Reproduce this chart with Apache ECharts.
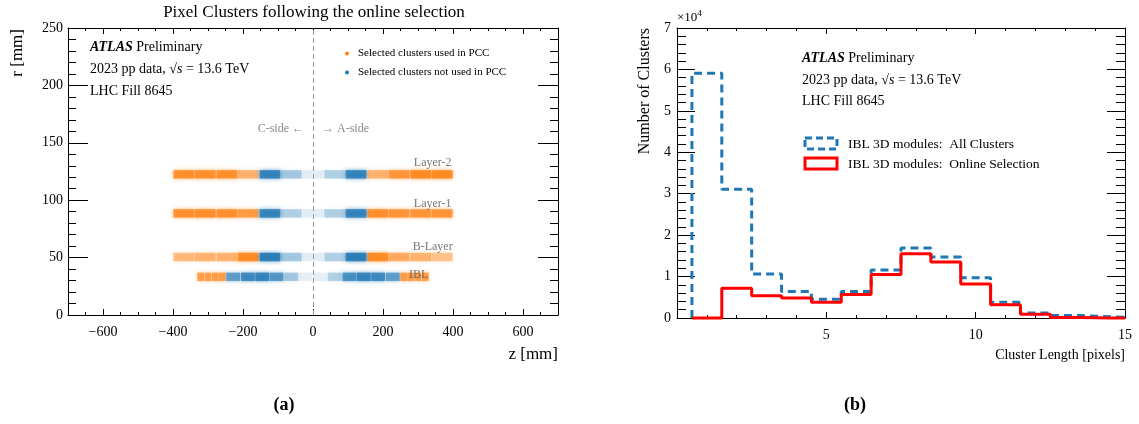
<!DOCTYPE html>
<html>
<head>
<meta charset="utf-8">
<script src="https://cdn.jsdelivr.net/npm/echarts@6/dist/echarts.min.js"></script>
<style>
  html, body { margin: 0; padding: 0; background: #fff; }
  #main { width: 1139px; height: 424px; }
</style>
</head>
<body>
<div id="main"></div>
<script>
// (a) pixel layers: module centres along z [mm] and radius [mm]
const layerNames = ['IBL', 'B-Layer', 'Layer-1', 'Layer-2'];
const layerRadius = [33.25, 50.5, 88.5, 122.5];

const pixZ = [-369, -308, -246, -185, -123, -62, 0, 62, 123, 185, 246, 308, 369];
const pixUsed = [1, 1, 1, 1, 0, 0, 0, 0, 0, 1, 1, 1, 1];
const bLayerShade = [0.45, 0.5, 0.5, 0.8, 0.85, 0.35, 0.12, 0.3, 0.85, 0.8, 0.55, 0.5, 0.4];
const layer1Shade = [0.75, 0.75, 0.75, 0.65, 0.8, 0.3, 0.12, 0.3, 0.8, 0.75, 0.7, 0.7, 0.7];
const layer2Shade = [0.75, 0.75, 0.75, 0.5, 0.8, 0.35, 0.12, 0.3, 0.8, 0.5, 0.7, 0.8, 0.8];

const iblZ = [-321, -300, -279, -259, -228, -186, -145, -104, -62, -21, 21, 62, 104, 145, 186, 228, 259, 279, 300, 321];
const iblUsed = [1, 1, 1, 1, 0, 0, 0, 0, 0, 0, 0, 0, 0, 0, 0, 0, 1, 1, 1, 1];
const iblShade = [0.65, 0.65, 0.65, 0.65, 0.6, 0.75, 0.8, 0.65, 0.35, 0.1, 0.1, 0.3, 0.7, 0.8, 0.75, 0.6, 0.65, 0.65, 0.65, 0.65];

// (b) cluster length histogram, bins of width 1 centred on integers
const binCenters = [1, 2, 3, 4, 5, 6, 7, 8, 9, 10, 11, 12, 13, 14, 15];
const allClusters = [59100, 31100, 10600, 6400, 4500, 6400, 11600, 16900, 14700, 9700, 3800, 1200, 600, 300, 200];
const onlineSel = [0, 7200, 5400, 4800, 3800, 5700, 10500, 15500, 13500, 8200, 3200, 900, 100, 0, 0];

const ORANGE = '#ff7f0e';
const BLUE = '#1f77b4';
const SERIF = "'Liberation Serif', 'DejaVu Serif', serif";

function hexA(hex, a) {
  const n = parseInt(hex.slice(1), 16);
  return 'rgba(' + (n >> 16) + ',' + ((n >> 8) & 255) + ',' + (n & 255) + ',' + a + ')';
}

// build module list [z, r, width, shade] split into used / not used
let usedMods = [], otherMods = [];
[[bLayerShade, 1], [layer1Shade, 2], [layer2Shade, 3]].forEach(([shade, li]) => {
  pixZ.forEach((z, i) => {
    const m = [z, layerRadius[li], 61.5, shade[i]];
    (pixUsed[i] ? usedMods : otherMods).push(m);
  });
});
iblZ.forEach((z, i) => {
  const m = [z, layerRadius[0], iblUsed[i] ? 20.75 : 41.3, iblShade[i]];
  (iblUsed[i] ? usedMods : otherMods).push(m);
});

function moduleRenderer(color) {
  return function (params, api) {
    const z = api.value(0), r = api.value(1), w = api.value(2), a = api.value(3);
    const p1 = api.coord([z - w / 2 + 0.8, r + 3.7]);
    const p2 = api.coord([z + w / 2 - 0.8, r - 3.7]);
    return {
      type: 'rect',
      shape: { x: p1[0], y: p1[1], width: p2[0] - p1[0], height: p2[1] - p1[1] },
      style: { fill: hexA(color, a), shadowBlur: 4, shadowColor: hexA(color, a) }
    };
  };
}

function steps(vals, xMax) {
  let pts = [[binCenters[0] - 0.5, 0]];
  vals.forEach((v, i) => {
    pts.push([binCenters[i] - 0.5, v]);
    pts.push([Math.min(binCenters[i] + 0.5, xMax), v]);
  });
  return pts;
}

const minus = v => (v < 0 ? '\u2212' + Math.abs(v) : '' + v);
const lbl = { fontFamily: SERIF, fontSize: 14, color: '#000' };
const blackLine = { show: true, onZero: false, lineStyle: { color: '#000', width: 1 } };
const noLine = { show: false, onZero: false };

const chart = echarts.init(document.getElementById('main'));

let option = {
  backgroundColor: '#fff',
  animation: false,
  grid: [
    { left: 68, top: 28, width: 490, height: 287 },
    { left: 677, top: 28, width: 448, height: 290 }
  ],
  xAxis: [
    { gridIndex: 0, type: 'value', position: 'bottom', min: -700, max: 700, splitNumber: 7,
      axisLine: blackLine, splitLine: { show: false },
      axisTick: { inside: true, length: 6, lineStyle: { color: '#000' } },
      axisLabel: Object.assign({ margin: 10, showMinLabel: false, showMaxLabel: false,
        formatter: v => (Math.abs(v) === 700 ? '' : minus(v)) }, lbl) },
    { gridIndex: 0, type: 'value', position: 'bottom', min: -700, max: 700, interval: 50,
      axisLine: noLine, splitLine: { show: false }, axisLabel: { show: false },
      axisTick: { inside: true, length: 3, lineStyle: { color: '#000' } } },
    { gridIndex: 0, type: 'value', position: 'top', min: -700, max: 700, splitNumber: 7,
      axisLine: blackLine, splitLine: { show: false }, axisLabel: { show: false },
      axisTick: { inside: true, length: 6, lineStyle: { color: '#000' } } },
    { gridIndex: 0, type: 'value', position: 'top', min: -700, max: 700, interval: 50,
      axisLine: noLine, splitLine: { show: false }, axisLabel: { show: false },
      axisTick: { inside: true, length: 3, lineStyle: { color: '#000' } } },
    { gridIndex: 1, type: 'value', position: 'bottom', min: 0, max: 15, interval: 5,
      axisLine: blackLine, splitLine: { show: false },
      axisTick: { inside: true, length: 6, lineStyle: { color: '#000' } },
      minorTick: { show: true, splitNumber: 5, length: 3, lineStyle: { color: '#000' } },
      axisLabel: Object.assign({ margin: 10, formatter: v => (v === 0 ? '' : v) }, lbl) },
    { gridIndex: 1, type: 'value', position: 'top', min: 0, max: 15, interval: 5,
      axisLine: blackLine, splitLine: { show: false }, axisLabel: { show: false },
      axisTick: { inside: true, length: 6, lineStyle: { color: '#000' } },
      minorTick: { show: true, splitNumber: 5, length: 3, lineStyle: { color: '#000' } } }
  ],
  yAxis: [
    { gridIndex: 0, type: 'value', position: 'left', min: 0, max: 250, interval: 50,
      axisLine: blackLine, splitLine: { show: false },
      axisTick: { inside: true, length: 20, lineStyle: { color: '#000' } },
      minorTick: { show: true, splitNumber: 5, length: 8, lineStyle: { color: '#000' } },
      axisLabel: Object.assign({ margin: 5 }, lbl) },
    { gridIndex: 0, type: 'value', position: 'right', min: 0, max: 250, interval: 50,
      axisLine: blackLine, splitLine: { show: false }, axisLabel: { show: false },
      axisTick: { inside: true, length: 20, lineStyle: { color: '#000' } },
      minorTick: { show: true, splitNumber: 5, length: 8, lineStyle: { color: '#000' } } },
    { gridIndex: 1, type: 'value', position: 'left', min: 0, max: 70000, interval: 10000,
      axisLine: blackLine, splitLine: { show: false },
      axisTick: { inside: true, length: 18, lineStyle: { color: '#000' } },
      minorTick: { show: true, splitNumber: 5, length: 9, lineStyle: { color: '#000' } },
      axisLabel: Object.assign({ margin: 6, formatter: v => v / 10000 }, lbl) },
    { gridIndex: 1, type: 'value', position: 'right', min: 0, max: 70000, interval: 10000,
      axisLine: blackLine, splitLine: { show: false }, axisLabel: { show: false },
      axisTick: { inside: true, length: 18, lineStyle: { color: '#000' } },
      minorTick: { show: true, splitNumber: 5, length: 9, lineStyle: { color: '#000' } } }
  ],
  legend: {
    left: 340, top: 43, orient: 'vertical', itemGap: 8,
    icon: 'circle', itemWidth: 4, itemHeight: 4,
    data: ['Selected clusters used in PCC', 'Selected clusters not used in PCC'],
    textStyle: { fontFamily: SERIF, fontSize: 11, color: '#000', padding: [0, 0, 0, 4] }
  },
  series: [
    { name: 'Selected clusters used in PCC', type: 'custom', xAxisIndex: 0, yAxisIndex: 0,
      itemStyle: { color: ORANGE }, renderItem: moduleRenderer(ORANGE), data: usedMods,
      markLine: { silent: true, symbol: 'none', label: { show: false },
        lineStyle: { color: '#999', type: [5, 3], width: 1 }, data: [{ xAxis: 0 }] } },
    { name: 'Selected clusters not used in PCC', type: 'custom', xAxisIndex: 0, yAxisIndex: 0,
      itemStyle: { color: BLUE }, renderItem: moduleRenderer(BLUE), data: otherMods },
    { name: 'layer labels', type: 'scatter', xAxisIndex: 0, yAxisIndex: 0, symbolSize: 0,
      data: [
        { name: layerNames[0], value: [302, layerRadius[0] + 1.5] },
        { name: layerNames[1], value: [342, layerRadius[1] + 9] },
        { name: layerNames[2], value: [342, layerRadius[2] + 8] },
        { name: layerNames[3], value: [342, layerRadius[3] + 10] }
      ],
      label: { show: true, position: 'inside', formatter: p => p.name,
        fontFamily: SERIF, fontSize: 12, color: '#555' } },
    { name: 'IBL 3D modules:  All Clusters', type: 'line', xAxisIndex: 4, yAxisIndex: 2,
      data: steps(allClusters, 15), showSymbol: false, clip: false,
      lineStyle: { color: BLUE, width: 3, type: [8, 5] } },
    { name: 'IBL 3D modules:  Online Selection', type: 'line', xAxisIndex: 4, yAxisIndex: 2,
      data: steps(onlineSel, 15), showSymbol: false, clip: false,
      lineStyle: { color: '#ff0000', width: 3 } }
  ],
  graphic: [
    { type: 'text', x: 314, y: 13, style: { text: 'Pixel Clusters following the online selection',
      fontFamily: SERIF, fontSize: 17, fill: '#000', align: 'center', verticalAlign: 'middle' } },
    { type: 'text', x: 90, y: 47, style: { text: '{b|ATLAS} Preliminary', fontFamily: SERIF, fontSize: 14,
      fill: '#000', verticalAlign: 'middle', rich: { b: { fontFamily: SERIF, fontSize: 14, fontWeight: 'bold', fontStyle: 'italic' } } } },
    { type: 'text', x: 90, y: 69, style: { text: '2023 pp data, \u221A{i|s} = 13.6 TeV', fontFamily: SERIF, fontSize: 14,
      fill: '#000', verticalAlign: 'middle', rich: { i: { fontFamily: SERIF, fontSize: 14, fontStyle: 'italic' } } } },
    { type: 'text', x: 90, y: 91, style: { text: 'LHC Fill 8645', fontFamily: SERIF, fontSize: 14,
      fill: '#000', verticalAlign: 'middle' } },
    { type: 'text', x: 304, y: 129, style: { text: 'C-side \u2190', fontFamily: SERIF, fontSize: 12,
      fill: '#888', align: 'right', verticalAlign: 'middle' } },
    { type: 'text', x: 322, y: 129, style: { text: '\u2192 A-side', fontFamily: SERIF, fontSize: 12,
      fill: '#888', align: 'left', verticalAlign: 'middle' } },
    { type: 'text', x: 18, y: 29, rotation: Math.PI / 2, style: { text: 'r [mm]', fontFamily: SERIF, fontSize: 17,
      fill: '#000', align: 'right', verticalAlign: 'middle' } },
    { type: 'text', x: 558, y: 355, style: { text: 'z [mm]', fontFamily: SERIF, fontSize: 17,
      fill: '#000', align: 'right', verticalAlign: 'middle' } },
    { type: 'text', x: 284, y: 405, style: { text: '(a)', fontFamily: SERIF, fontSize: 18, fontWeight: 'bold',
      fill: '#000', align: 'center', verticalAlign: 'middle' } },
    { type: 'text', x: 802, y: 58, style: { text: '{b|ATLAS} Preliminary', fontFamily: SERIF, fontSize: 14,
      fill: '#000', verticalAlign: 'middle', rich: { b: { fontFamily: SERIF, fontSize: 14, fontWeight: 'bold', fontStyle: 'italic' } } } },
    { type: 'text', x: 802, y: 80, style: { text: '2023 pp data, \u221A{i|s} = 13.6 TeV', fontFamily: SERIF, fontSize: 14,
      fill: '#000', verticalAlign: 'middle', rich: { i: { fontFamily: SERIF, fontSize: 14, fontStyle: 'italic' } } } },
    { type: 'text', x: 802, y: 101, style: { text: 'LHC Fill 8645', fontFamily: SERIF, fontSize: 14,
      fill: '#000', verticalAlign: 'middle' } },
    { type: 'rect', shape: { x: 805, y: 138, width: 32, height: 11 },
      style: { fill: 'none', stroke: BLUE, lineWidth: 3, lineDash: [7, 4] } },
    { type: 'rect', shape: { x: 805, y: 158, width: 32, height: 11 },
      style: { fill: 'none', stroke: '#ff0000', lineWidth: 3 } },
    { type: 'text', x: 848, y: 144, style: { text: 'IBL 3D modules:  All Clusters', fontFamily: SERIF, fontSize: 13.5,
      fill: '#000', verticalAlign: 'middle' } },
    { type: 'text', x: 848, y: 164, style: { text: 'IBL 3D modules:  Online Selection', fontFamily: SERIF, fontSize: 13.5,
      fill: '#000', verticalAlign: 'middle' } },
    { type: 'text', x: 677, y: 18, style: { text: '\u00D710{s|4}', fontFamily: SERIF, fontSize: 13,
      fill: '#000', align: 'left', verticalAlign: 'middle', rich: { s: { fontFamily: SERIF, fontSize: 9, verticalAlign: 'top', padding: [0, 0, 8, 0] } } } },
    { type: 'text', x: 645, y: 28, rotation: Math.PI / 2, style: { text: 'Number of Clusters', fontFamily: SERIF, fontSize: 16,
      fill: '#000', align: 'right', verticalAlign: 'middle' } },
    { type: 'text', x: 1125, y: 355, style: { text: 'Cluster Length [pixels]', fontFamily: SERIF, fontSize: 14,
      fill: '#000', align: 'right', verticalAlign: 'middle' } },
    { type: 'text', x: 855, y: 405, style: { text: '(b)', fontFamily: SERIF, fontSize: 18, fontWeight: 'bold',
      fill: '#000', align: 'center', verticalAlign: 'middle' } }
  ]
};

chart.setOption(option);
</script>
</body>
</html>
